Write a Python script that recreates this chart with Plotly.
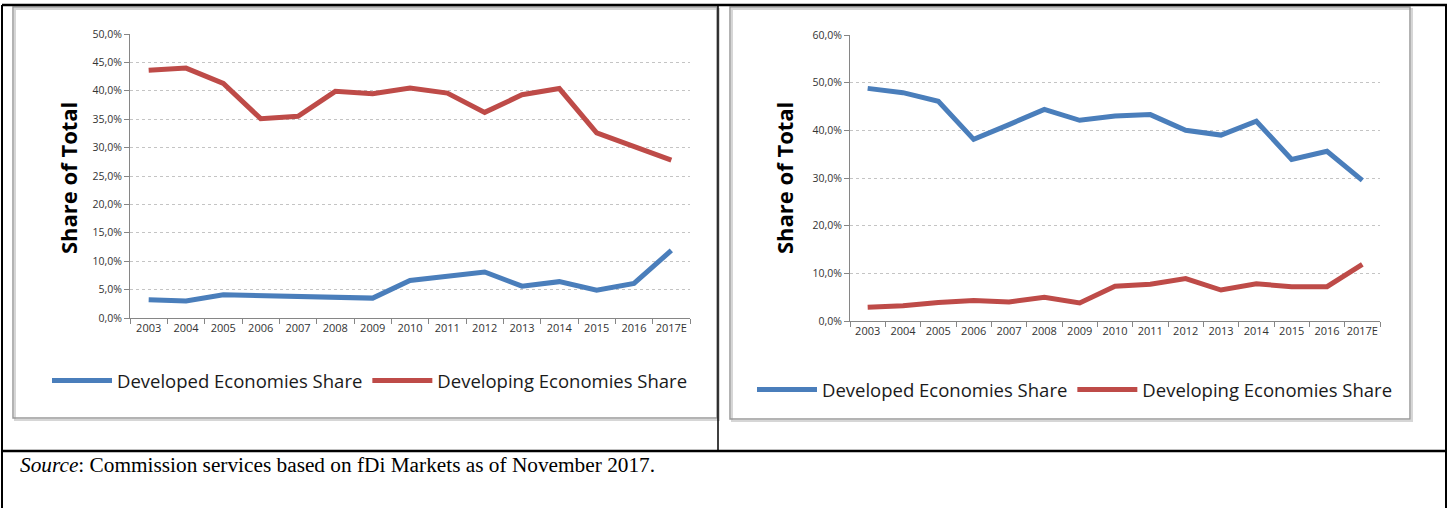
import plotly.graph_objects as go

years = ["2003", "2004", "2005", "2006", "2007", "2008", "2009", "2010",
         "2011", "2012", "2013", "2014", "2015", "2016", "2017E"]

# Left panel (percent)
left_developed = [3.2, 3.0, 4.1, 4.0, 3.8, 3.6, 3.5, 6.6, 7.3, 8.1, 5.6, 6.4, 4.9, 6.1, 11.9]
left_developing = [43.6, 44.0, 41.3, 35.1, 35.5, 39.9, 39.5, 40.5, 39.6, 36.2, 39.3, 40.4, 32.6, 30.2, 27.8]

# Right panel (percent)
right_developed = [48.8, 47.9, 46.1, 38.1, 41.2, 44.4, 42.1, 43.0, 43.3, 40.0, 39.0, 41.9, 33.9, 35.6, 29.5]
right_developing = [2.9, 3.2, 3.9, 4.3, 4.0, 5.0, 3.8, 7.3, 7.7, 8.9, 6.5, 7.8, 7.2, 7.2, 11.9]

left_ticks = [0, 5, 10, 15, 20, 25, 30, 35, 40, 45, 50]
left_ticktext = ["0,0%", "5,0%", "10,0%", "15,0%", "20,0%", "25,0%", "30,0%", "35,0%", "40,0%", "45,0%", "50,0%"]
right_ticks = [0, 10, 20, 30, 40, 50, 60]
right_ticktext = ["0,0%", "10,0%", "20,0%", "30,0%", "40,0%", "50,0%", "60,0%"]

series_names = ["Developed Economies Share", "Developing Economies Share"]
y_title = "Share of Total"
source_text = "<i>Source</i>: Commission services based on fDi Markets as of November 2017."

BLUE = "#4A7EBB"
RED = "#BE4B48"
AXIS = "#868686"
GRID = "#C4C4C4"
TICKFONT = dict(family="Open Sans", size=10.5, color="#333333")
XTICKFONT = dict(family="Open Sans", size=11, color="#333333")
LEGFONT = dict(family="Open Sans", size=18.5, color="#1a1a1a")

W, H = 1450, 508


def px(x):
    return x / W


def py(y):
    return 1 - y / H


fig = go.Figure()

fig.add_trace(go.Scatter(x=years, y=left_developed, mode="lines", name=series_names[0],
                         line=dict(color=BLUE, width=5), xaxis="x", yaxis="y", legend="legend"))
fig.add_trace(go.Scatter(x=years, y=left_developing, mode="lines", name=series_names[1],
                         line=dict(color=RED, width=5), xaxis="x", yaxis="y", legend="legend"))
fig.add_trace(go.Scatter(x=years, y=right_developed, mode="lines", name=series_names[0],
                         line=dict(color=BLUE, width=5), xaxis="x2", yaxis="y2", legend="legend2"))
fig.add_trace(go.Scatter(x=years, y=right_developing, mode="lines", name=series_names[1],
                         line=dict(color=RED, width=5), xaxis="x2", yaxis="y2", legend="legend2"))

xcommon = dict(type="category", range=[-0.5, 14.5], showline=True, linecolor=AXIS, linewidth=1,
               ticks="outside", ticklen=5, tickcolor=AXIS, tickson="boundaries", tickangle=0,
               showgrid=False, zeroline=False, tickfont=XTICKFONT, fixedrange=True,
               automargin=False)
ycommon = dict(showline=True, linecolor=AXIS, linewidth=1, ticks="outside", ticklen=5,
               tickcolor=AXIS, showgrid=True, gridcolor=GRID, griddash="dot", gridwidth=1,
               zeroline=False, tickfont=TICKFONT, fixedrange=True, automargin=False)

fig.update_layout(
    template="none",
    width=W, height=H,
    autosize=False,
    margin=dict(l=0, r=0, t=0, b=0, pad=0, autoexpand=False),
    paper_bgcolor="white", plot_bgcolor="white",
    xaxis=dict(domain=[px(130), px(690)], anchor="y", **xcommon),
    yaxis=dict(domain=[py(318), py(34)], anchor="x", range=[0, 50],
               tickvals=left_ticks, ticktext=left_ticktext, **ycommon),
    xaxis2=dict(domain=[px(850), px(1380)], anchor="y2", **xcommon),
    yaxis2=dict(domain=[py(321), py(35)], anchor="x2", range=[0, 60],
                tickvals=right_ticks, ticktext=right_ticktext, **ycommon),
    legend=dict(orientation="h", x=px(370), xanchor="center", y=py(381), yanchor="middle",
                font=LEGFONT, bgcolor="rgba(0,0,0,0)", itemwidth=60, borderwidth=0),
    legend2=dict(orientation="h", x=px(1075), xanchor="center", y=py(390), yanchor="middle",
                 font=LEGFONT, bgcolor="rgba(0,0,0,0)", itemwidth=60, borderwidth=0),
    showlegend=True,
)

# y-axis titles
for xc in (68, 784):
    fig.add_annotation(text=y_title, x=px(xc), y=py(178), xref="paper", yref="paper",
                       textangle=-90, showarrow=False, xanchor="center", yanchor="middle",
                       font=dict(family="Open Sans", size=22, color="#000000", weight=700))

# Source note
fig.add_annotation(text=source_text, x=px(18), y=py(465), xref="paper", yref="paper",
                   showarrow=False, xanchor="left", yanchor="middle",
                   font=dict(family="Liberation Serif", size=21.3, color="#000000"))

shapes = []
# chart frames (gray with subtle shadow)
for (x0, y0, x1, y1) in [(13, 7, 717, 418), (730, 7, 1410, 419)]:
    shapes.append(dict(type="rect", xref="paper", yref="paper",
                       x0=px(x0 + 2), x1=px(x1 + 2), y0=py(y1 + 2), y1=py(y0 + 2),
                       line=dict(color="#D6D6D6", width=2), fillcolor="rgba(0,0,0,0)", layer="below"))
    shapes.append(dict(type="rect", xref="paper", yref="paper",
                       x0=px(x0), x1=px(x1), y0=py(y1), y1=py(y0),
                       line=dict(color="#9A9A9A", width=1.5), fillcolor="rgba(0,0,0,0)", layer="below"))
# table lines (black)
table_lines = [
    (2, 5, 1447, 5, 2.5),
    (2, 5, 2, 508, 2),
    (1446, 5, 1446, 508, 2),
    (718, 5, 718, 451, 1.5),
    (2, 451, 1447, 451, 2.5),
]
for (x0, y0, x1, y1, w) in table_lines:
    shapes.append(dict(type="line", xref="paper", yref="paper",
                       x0=px(x0), x1=px(x1), y0=py(y0), y1=py(y1),
                       line=dict(color="#000000", width=w)))
fig.update_layout(shapes=shapes)

fig.write_html(
    "out.html",
    config={"displayModeBar": False},
    post_script=(
        "document.documentElement.style.overflow='hidden';"
        "document.body.style.margin='0';document.body.style.overflow='hidden';"
        "var d=document.getElementById('{plot_id}');"
        "d.style.position='fixed';d.style.top='0px';d.style.left='0px';"
    ),
)
